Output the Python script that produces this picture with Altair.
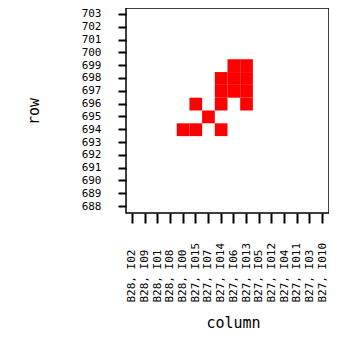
import altair as alt
import pandas as pd

columns = ["B28, I02", "B28, I09", "B28, I01", "B28, I08", "B28, I00",
           "B27, I015", "B27, I07", "B27, I014", "B27, I06", "B27, I013",
           "B27, I05", "B27, I012", "B27, I04", "B27, I011", "B27, I03", "B27, I010"]
rows = list(range(703, 687, -1))

cell_cols = ["B28, I00", "B27, I015", "B27, I015", "B27, I07", "B27, I014",
             "B27, I014", "B27, I014", "B27, I014", "B27, I06", "B27, I06",
             "B27, I06", "B27, I013", "B27, I013", "B27, I013", "B27, I013"]
cell_rows = [694, 694, 696, 695, 694,
             696, 697, 698, 697, 698,
             699, 696, 697, 698, 699]

df = pd.DataFrame({"column": cell_cols, "row": cell_rows})

FONT = "DejaVu Sans Mono"

chart = alt.Chart(df).mark_rect(color="#ff0000").encode(
    x=alt.X("column:N", scale=alt.Scale(domain=columns, paddingInner=0, paddingOuter=0),
            axis=alt.Axis(title="column", labelAngle=-90, labelAlign="left", labelBaseline="middle",
                          labelPadding=79, tickSize=10, tickWidth=2, tickColor="black",
                          domain=False, labelFont=FONT, labelFontSize=11, labelColor="black",
                          titleFont=FONT, titleFontSize=15, titleFontWeight="normal", titleColor="black",
                          titleX=107, titleY=114, titleBaseline="alphabetic", titleAlign="center")),
    y=alt.Y("row:O", scale=alt.Scale(domain=rows, paddingInner=0, paddingOuter=0),
            axis=alt.Axis(title="row", tickSize=8, tickWidth=2, tickColor="black",
                          labelPadding=17, domain=False, labelFont=FONT, labelFontSize=11,
                          labelColor="black",
                          titleFont=FONT, titleFontSize=15, titleFontWeight="normal", titleColor="black",
                          titleX=-93, titleY=103, titleAngle=-90, titleBaseline="middle", titleAlign="center")),
).properties(
    width=203, height=205,
    autosize=alt.AutoSizeParams(type="none"),
    padding={"left": 118, "top": 0, "right": 0, "bottom": 120},
).configure_view(stroke="black", strokeWidth=1.5)

chart.save("out.html", embed_options={"renderer": "svg", "actions": False})
